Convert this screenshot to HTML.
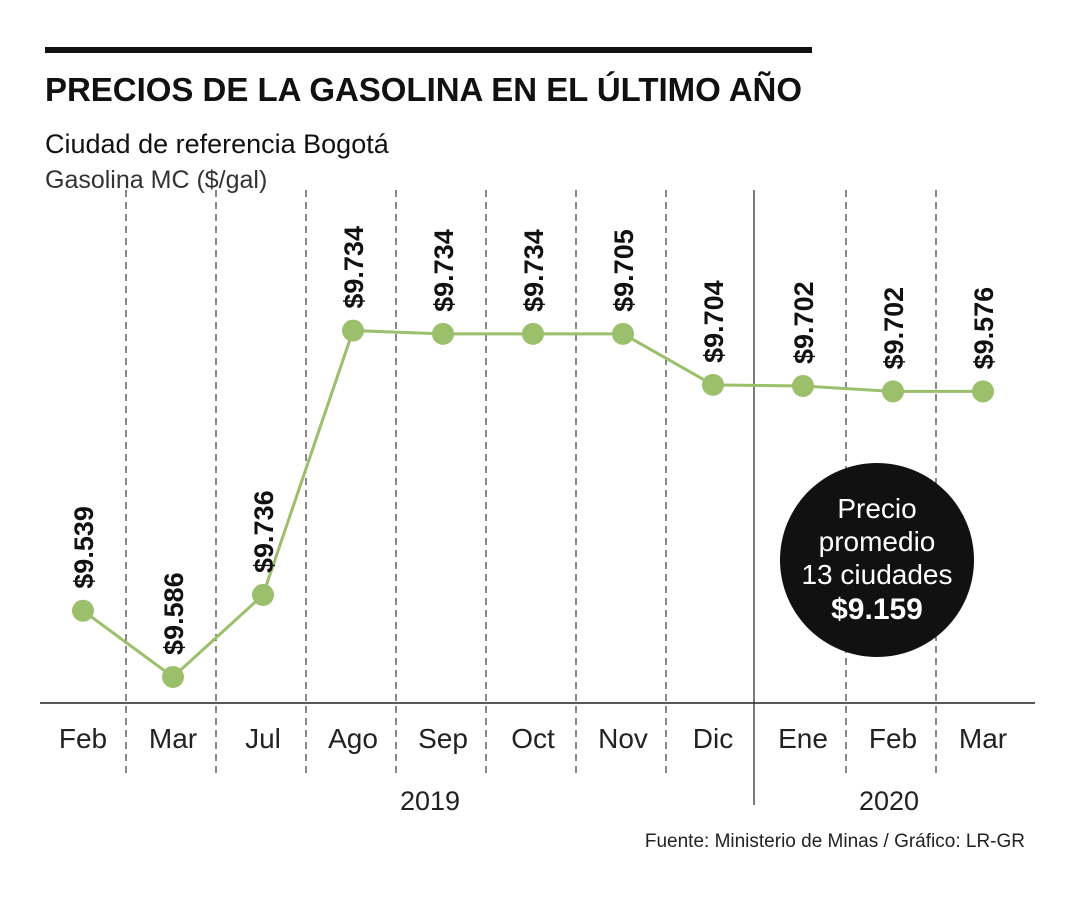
<!DOCTYPE html>
<html><head><meta charset="utf-8"><style>
body{margin:0;background:#fff;width:1080px;height:900px;overflow:hidden}
svg text{font-family:"Liberation Sans",sans-serif}
</style></head><body>
<svg width="1080" height="900" id="c">
<rect x="45" y="47" width="767" height="6" fill="#111"/>
<text x="45" y="101" font-size="33" font-weight="bold" fill="#111" textLength="757">PRECIOS DE LA GASOLINA EN EL ÚLTIMO AÑO</text>
<text x="45" y="153" font-size="27" fill="#111">Ciudad de referencia Bogotá</text>
<text x="45" y="188" font-size="25" fill="#333">Gasolina MC ($/gal)</text>
<line x1="40" y1="703" x2="1035" y2="703" stroke="#222" stroke-width="1.5"/>
<line x1="754" y1="190" x2="754" y2="805" stroke="#222" stroke-width="1.2"/>
<text x="430" y="810" font-size="27" text-anchor="middle" fill="#222">2019</text>
<text x="889" y="810" font-size="27" text-anchor="middle" fill="#222">2020</text>
<text x="1025" y="847" font-size="19" text-anchor="end" fill="#222">Fuente: Ministerio de Minas / Gráfico: LR-GR</text>
<g id="grid"></g><g id="plot"></g>
<g>
<circle cx="877" cy="560" r="97" fill="#111"/>
<text x="877" y="518" font-size="28" fill="#fff" text-anchor="middle">Precio</text>
<text x="877" y="551" font-size="28" fill="#fff" text-anchor="middle">promedio</text>
<text x="877" y="584" font-size="28" fill="#fff" text-anchor="middle">13 ciudades</text>
<text x="877" y="619" font-size="30" font-weight="bold" fill="#fff" text-anchor="middle">$9.159</text>
</g>
</svg>
<script>
const months = ["Feb","Mar","Jul","Ago","Sep","Oct","Nov","Dic","Ene","Feb","Mar"];
const priceLabels = ["$9.539","$9.586","$9.736","$9.734","$9.734","$9.734","$9.705","$9.704","$9.702","$9.702","$9.576"];
const plotLevels = [9.485,9.424,9.4995,9.743,9.740,9.740,9.740,9.693,9.692,9.687,9.687];
const NS="http://www.w3.org/2000/svg";
const xS=i=>83+i*90;
const yS=v=>703-(v-9.40)/0.35*380;
const grid=document.getElementById('grid'), plot=document.getElementById('plot');
function mk(t,a,p){const e=document.createElementNS(NS,t);for(const k in a)e.setAttribute(k,a[k]);p.appendChild(e);return e;}
for(let i=0;i<months.length-1;i++){
  if(i===7) continue;
  const l=mk('line',{x1:xS(i)+43,x2:xS(i)+43,y1:190,y2:775,stroke:'#111','stroke-width':1,'stroke-dasharray':'7,5'},grid);
  
  
}
months.forEach((m,i)=>{
  const t=mk('text',{x:xS(i),y:748,'font-size':28,'text-anchor':'middle',fill:'#222'},grid);
  t.textContent=m;
  
  
});
const pl=mk('polyline',{points:plotLevels.map((v,i)=>xS(i)+','+yS(v)).join(' '),fill:'none',stroke:'#9bbf6a','stroke-width':3},plot);


plotLevels.forEach((v,i)=>{
  const c=mk('circle',{cx:xS(i),cy:yS(v),r:11,fill:'#9bbf6a'},plot);
  
  
  const x=xS(i)+10,y=yS(v)-22;
  const t=mk('text',{x:x,y:y,'font-size':27,'font-weight':'bold',fill:'#111',transform:`rotate(-90 ${x} ${y})`},plot);
  t.textContent=priceLabels[i];
  
  
});
</script>
</body></html>
